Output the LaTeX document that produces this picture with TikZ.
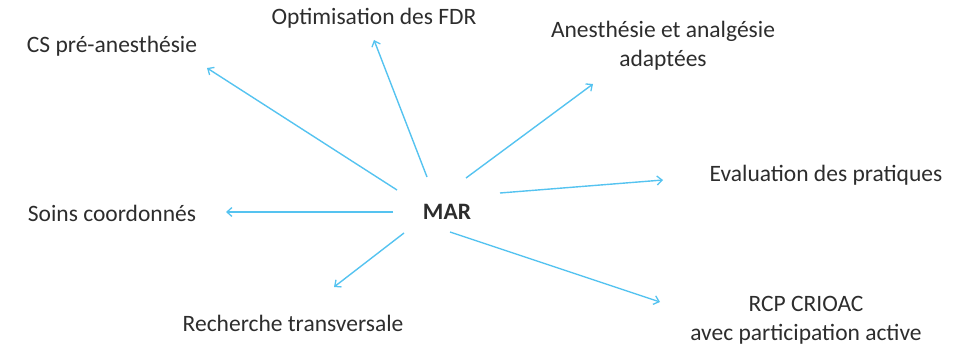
\documentclass[tikz,border=0pt]{standalone}
\usepackage{fontspec}
\setmainfont{Carlito}
\usetikzlibrary{arrows.meta}
\definecolor{arr}{RGB}{85,195,240}
\definecolor{txt}{RGB}{45,45,45}
\tikzset{
  lbl/.style={text=txt,font=\fontsize{23.5}{29}\selectfont,align=center,inner sep=0pt},
  link/.style={draw=arr,line width=1.4pt,-{Straight Barb[length=5pt,width=9pt,line width=1.3pt]}}
}
\begin{document}
\begin{tikzpicture}[x=1pt,y=-1pt]
\useasboundingbox (0,0) rectangle (972,350);
\node[lbl,font=\fontsize{23.5}{29}\selectfont\bfseries] (mar) at (447,212) {MAR};
\node[lbl] (cs) at (112,46) {CS pré-anesthésie};
\node[lbl] (fdr) at (374,18) {Optimisation des FDR};
\node[lbl] (anes) at (663,46) {Anesthésie et analgésie\\adaptées};
\node[lbl] (eval) at (826,175) {Evaluation des pratiques};
\node[lbl] (soins) at (112,213) {Soins coordonnés};
\node[lbl] (rech) at (293,323) {Recherche transversale};
\node[lbl] (rcp) at (806,320) {RCP CRIOAC\\avec participation active};
\coordinate (s1) at (397,190); \coordinate (e1) at (207,68);
\coordinate (s2) at (427,177); \coordinate (e2) at (374,40);
\coordinate (s3) at (466,178); \coordinate (e3) at (593,84);
\coordinate (s4) at (500,193); \coordinate (e4) at (663,180);
\coordinate (s5) at (393,212); \coordinate (e5) at (226,212);
\coordinate (s6) at (404,233); \coordinate (e6) at (334,287);
\coordinate (s7) at (450,232); \coordinate (e7) at (660,302);
\draw[link] (s1) -- (e1);
\draw[link] (s2) -- (e2);
\draw[link] (s3) -- (e3);
\draw[link] (s4) -- (e4);
\draw[link] (s5) -- (e5);
\draw[link] (s6) -- (e6);
\draw[link] (s7) -- (e7);
\end{tikzpicture}
\end{document}
